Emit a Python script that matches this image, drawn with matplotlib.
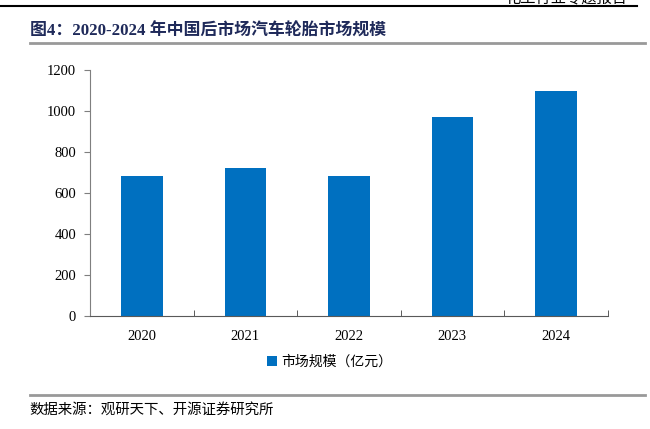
import matplotlib
matplotlib.use('Agg')
import matplotlib.pyplot as plt
from matplotlib.lines import Line2D
from matplotlib.patches import Patch

years = ['2020', '2021', '2022', '2023', '2024']
market_size = [683, 722, 683, 971, 1098]

title = '图4：2020-2024 年中国后市场汽车轮胎市场规模'
legend_label = '市场规模（亿元）'
source = '数据来源：观研天下、开源证券研究所'
header = '化工行业专题报告'

bar_color = '#0070C0'
axis_color = '#7F7F7F'
mixed = ['Liberation Serif', 'Noto Sans CJK SC']

fig = plt.figure(figsize=(6.5, 4.29), dpi=100)
ax = fig.add_axes([0.1385, 0.2634, 0.7965, 0.5734])

x = range(len(years))
ax.bar(x, market_size, width=0.4, color=bar_color, zorder=2)

ax.set_xlim(-0.5, len(years) - 0.5)
ax.set_ylim(0, 1200)
ax.set_yticks(range(0, 1201, 200))
ax.set_yticklabels([str(v) for v in range(0, 1201, 200)],
                   fontsize=10.5, family='Liberation Serif')
ax.set_xticks(list(x))
ax.set_xticklabels(years, fontsize=10.5, family='Liberation Serif')
ax.tick_params(axis='x', length=0, pad=10)
ax.tick_params(axis='y', length=4, color=axis_color, direction='out', pad=6)

# minor ticks between categories, pointing up
ax.set_xticks([i - 0.5 for i in range(len(years) + 1)], minor=True)
ax.tick_params(axis='x', which='minor', direction='in', length=4, color='#404040')

for side in ['top', 'right']:
    ax.spines[side].set_visible(False)
ax.spines['left'].set_color(axis_color)
ax.spines['bottom'].set_color('#595959')

handles = [Patch(facecolor=bar_color, edgecolor='none')]
fig.legend(handles, [legend_label], loc='center', bbox_to_anchor=(0.507, 0.156),
           frameon=False, handlelength=0.7, handleheight=0.7, handletextpad=0.3,
           prop={'family': 'Noto Sans CJK SC', 'size': 10})

# header line and clipped header text (cut at top edge as in the page)
fig.text(0.965, 1.004, header, ha='right', va='center', fontsize=11,
         family='Noto Sans CJK SC', color='black')
fig.add_artist(Line2D([0.0, 0.98], [0.986, 0.986], color='black', lw=1.5))

# title and rules
fig.text(0.046, 0.927, title, ha='left', va='center', fontsize=12.2,
         fontweight='bold', family=mixed, color='#1F2A5A')
fig.add_artist(Line2D([0.046, 0.993], [0.899, 0.899], color='#999999', lw=2))
fig.add_artist(Line2D([0.046, 0.993], [0.079, 0.079], color='#999999', lw=2))
fig.text(0.046, 0.044, source, ha='left', va='center', fontsize=10.4,
         family='Noto Sans CJK SC', color='black')

fig.savefig('out.png', dpi=100)
